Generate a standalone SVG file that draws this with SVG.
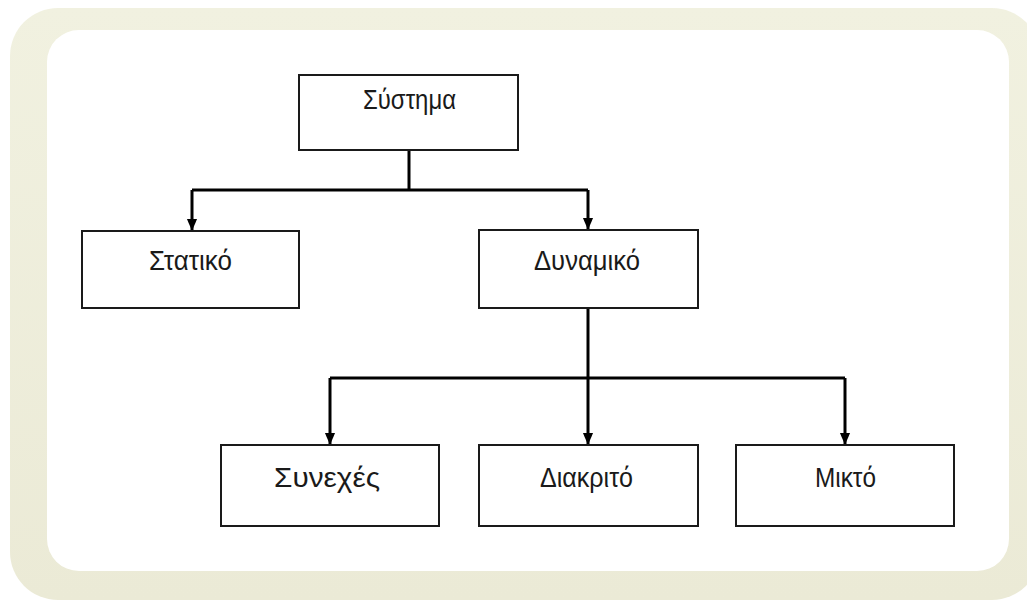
<svg xmlns="http://www.w3.org/2000/svg" width="1027" height="601" viewBox="0 0 1027 601">
  <style>
    .box { fill: #ffffff; stroke: #1a1a1a; stroke-width: 2; }
    .label { font-family: "Liberation Sans", "DejaVu Sans", sans-serif; font-size: 27px; fill: #1a1a1a; text-anchor: middle; }
    .wire { fill: none; stroke: #000000; stroke-width: 3; }
  </style>
  <defs>
    <marker id="head" markerUnits="userSpaceOnUse" markerWidth="12" markerHeight="14" refX="13" refY="6" orient="auto" viewBox="0 0 14 12">
      <path d="M0,0 L14,6 L0,12 Z" fill="#000000"/>
    </marker>
    <linearGradient id="band" x1="0" y1="0" x2="0" y2="1">
      <stop offset="0" stop-color="#f1f1e0"/>
      <stop offset="1" stop-color="#ebead6"/>
    </linearGradient>
  </defs>

  <!-- page background and pale rounded frame -->
  <rect x="0" y="0" width="1027" height="601" fill="#ffffff"/>
  <rect x="10" y="8" width="1030" height="592" rx="48" fill="url(#band)"/>
  <rect x="47" y="30" width="962" height="541" rx="32" fill="#ffffff"/>

  <!-- connectors -->
  <g id="connectors">
    <path class="wire" d="M409,150 V190"/>
    <path class="wire" d="M192,190 H588"/>
    <path class="wire" d="M192,190 V230" marker-end="url(#head)"/>
    <path class="wire" d="M588,190 V229" marker-end="url(#head)"/>
    <path class="wire" d="M588,308 V444" marker-end="url(#head)"/>
    <path class="wire" d="M330,378 H845"/>
    <path class="wire" d="M330,378 V444" marker-end="url(#head)"/>
    <path class="wire" d="M845,378 V444" marker-end="url(#head)"/>
  </g>

  <!-- nodes -->
  <g id="systima">
    <rect class="box" x="299" y="75" width="219" height="75"/>
    <text class="label" x="409.5" y="109" textLength="93" lengthAdjust="spacingAndGlyphs">Σύστημα</text>
  </g>
  <g id="statiko">
    <rect class="box" x="82" y="231" width="217" height="77"/>
    <text class="label" x="190.5" y="270" textLength="83" lengthAdjust="spacingAndGlyphs">Στατικό</text>
  </g>
  <g id="dynamiko">
    <rect class="box" x="479" y="230" width="219" height="78"/>
    <text class="label" x="587" y="270" textLength="106" lengthAdjust="spacingAndGlyphs">Δυναμικό</text>
  </g>
  <g id="synexes">
    <rect class="box" x="221" y="445" width="218" height="81"/>
    <text class="label" x="327" y="487" textLength="106" lengthAdjust="spacingAndGlyphs">Συνεχές</text>
  </g>
  <g id="diakrito">
    <rect class="box" x="479" y="445" width="219" height="81"/>
    <text class="label" x="586.5" y="487" textLength="93" lengthAdjust="spacingAndGlyphs">Διακριτό</text>
  </g>
  <g id="mikto">
    <rect class="box" x="736" y="445" width="218" height="81"/>
    <text class="label" x="845.5" y="487" textLength="61" lengthAdjust="spacingAndGlyphs">Μικτό</text>
  </g>
</svg>
